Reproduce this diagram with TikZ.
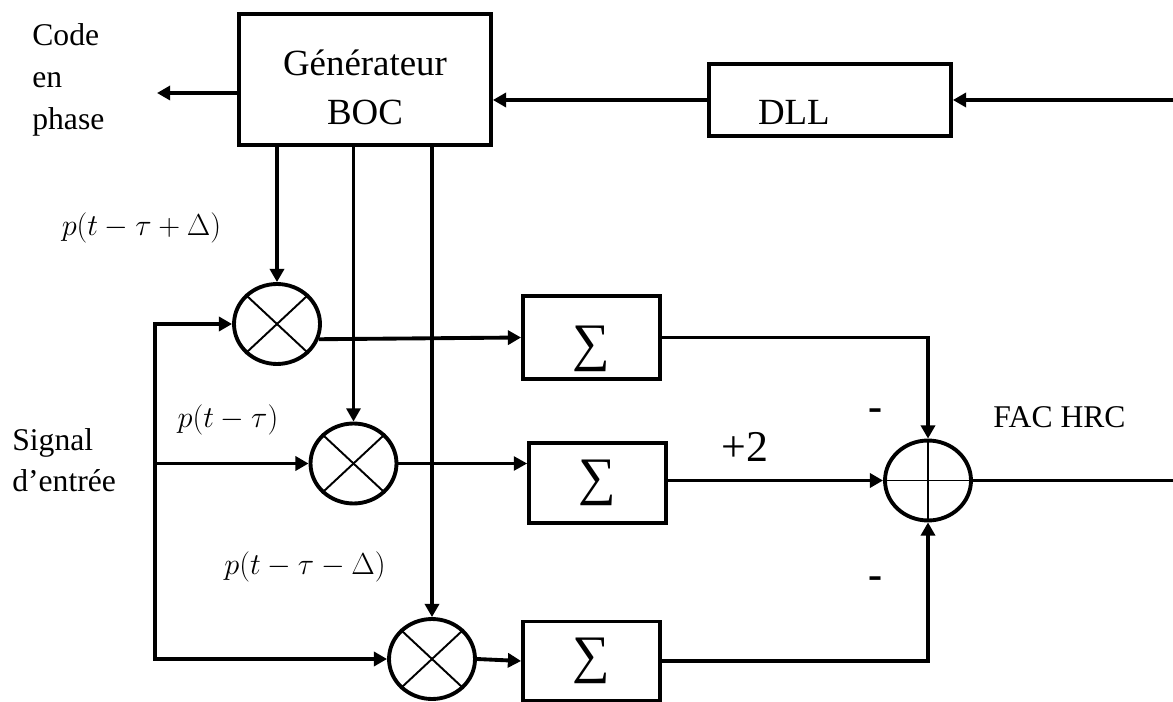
\documentclass[tikz,border=0pt]{standalone}
\usepackage{fontspec}
\setmainfont{Liberation Serif}
\usepackage{tikz}
\usetikzlibrary{arrows.meta,shapes.geometric}

\begin{document}
\begin{tikzpicture}[x=0.02cm, y=-0.02cm,
    every node/.style={font=\fontsize{18}{23}\selectfont, inner sep=0pt},
    grand/.style={font=\fontsize{21}{28}\selectfont},
    somme/.style={font=\fontsize{30}{30}\selectfont},
    moins/.style={font=\bfseries\fontsize{24}{24}\selectfont},
    bloc/.style={draw, line width=2.2pt},
    mult/.style={draw, ellipse, line width=2.2pt, minimum width=1.72cm, minimum height=1.6cm},
    fleche/.style={-{Triangle[length=7.5pt,width=8pt]}, line width=2.2pt},
    trait/.style={line width=2.2pt, line cap=rect},
    fin/.style={line width=1.1pt}]
    \useasboundingbox (0,0) rectangle (1173,702);
    % blocs
    \node[bloc,grand,align=center,minimum width=5.04cm,minimum height=2.62cm] (gen) at (365,79.5) {\rule{0pt}{24pt}Générateur\\BOC};
    \node[bloc,grand,minimum width=4.84cm,minimum height=1.44cm,text width=2.88cm,inner xsep=0.98cm,align=left,text height=27.5pt,text depth=0pt] (dll) at (830,100) {DLL};
    \node[mult] (mult1) at (277,324) {};
    \node[mult] (mult2) at (353.5,463.5) {};
    \node[mult] (mult3) at (432,659) {};
    \node[bloc,somme,minimum width=2.74cm,minimum height=1.66cm,text height=26pt,text depth=0pt] (sum1) at (591.5,337.5) {∑};
    \node[bloc,somme,minimum width=2.74cm,minimum height=1.6cm] (sum2) at (597.5,483) {∑};
    \node[bloc,somme,minimum width=2.74cm,minimum height=1.58cm] (sum3) at (591.5,661) {∑};
    \node[mult] (comb) at (928,480.5) {};
    \coordinate (entree) at (1173,100);
    \coordinate (code) at (157,93);
    \coordinate (signal) at (155,464);
    \coordinate (sortie) at (1173,480.5);
    % textes
    \node[anchor=west,align=left,font=\fontsize{18}{24}\selectfont] (txtcode) at (32,80) {Code\\en\\phase};
    \node[anchor=west,align=left] (txtsignal) at (12,460) {Signal\\d’entrée};
    \node (pavance) at (141.5,228) {$p(t-\tau+\Delta)$};
    \node (pponct) at (228,420) {$p(t-\tau)$};
    \node (pretard) at (305,567) {$p(t-\tau-\Delta)$};
    \node[font=\fontsize{25}{25}\selectfont] (gain) at (745,447) {+2};
    \node[moins] (moinsa) at (876,415) {-};
    \node[moins] (moinsb) at (876,583) {-};
    \node (fac) at (1059.5,417) {FAC HRC};
    % croix
    \draw[fin] (mult1.north west)--(mult1.south east);
    \draw[fin] (mult1.north east)--(mult1.south west);
    \draw[fin] (mult2.north west)--(mult2.south east);
    \draw[fin] (mult2.north east)--(mult2.south west);
    \draw[fin] (mult3.north west)--(mult3.south east);
    \draw[fin] (mult3.north east)--(mult3.south west);
    \draw[fin] (comb.north)--(comb.south);
    \draw[fin] (comb.west)--(comb.east);
    % liaisons
    \draw[fleche] (entree)--(dll.east);
    \draw[fleche] (dll.west)--(dll.west -| gen.east);
    \draw[fleche] (gen.west |- code)--(code);
    \draw[fleche] (mult1.north |- gen.south)--(mult1.north);
    \draw[fleche,line width=1.6pt] (mult2.north |- gen.south)--(mult2.north);
    \draw[fleche] (mult3.north |- gen.south)--(mult3.north);
    \draw[trait] (signal |- mult1.west)--(signal |- mult3.west);
    \draw[fleche] (signal |- mult1.west)--(mult1.west);
    \draw[fleche] (signal |- mult2.west)--(mult2.west);
    \draw[fleche] (signal |- mult3.west)--(mult3.west);
    \draw[fleche] (mult1.-20)--(sum1.west);
    \draw[fleche,line width=1.2pt] (mult2.east)--(mult2.east -| sum2.west);
    \draw[fleche] (mult3.east)--(sum3.west);
    \draw[fleche] (sum1.east) -| (comb.north);
    \draw[fleche] (comb.west -| sum2.east)--(comb.west);
    \draw[fleche] (sum3.east) -| (comb.south);
    \draw[trait] (comb.east)--(sortie);
\end{tikzpicture}
\end{document}
